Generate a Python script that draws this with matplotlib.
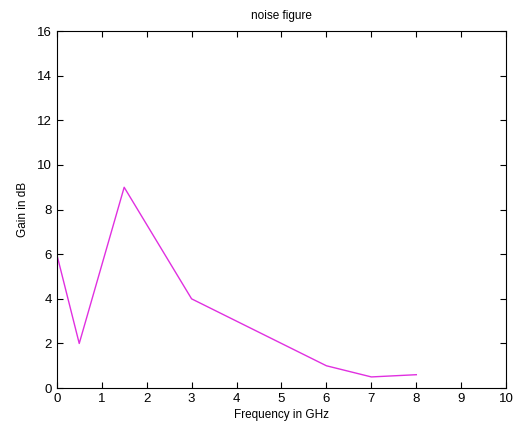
import matplotlib
matplotlib.use("Agg")
import matplotlib.pyplot as plt

freq_ghz = [0, 0.5, 1.5, 3, 4, 5, 6, 7, 8]
gain_db = [6, 2, 9, 4, 3, 2, 1, 0.5, 0.6]

plt.rcParams["font.family"] = ["Liberation Sans", "DejaVu Sans"]
plt.rcParams["font.size"] = 8

fig = plt.figure(figsize=(5.16, 4.26), dpi=100)
ax = fig.add_axes([0.110, 0.089, 0.871, 0.838])
ax.plot(freq_ghz, gain_db, color="#e030e0", linewidth=1.0)

ax.set_xlim(0, 10)
ax.set_ylim(0, 16)
ax.set_xticks(range(0, 11))
ax.set_yticks(range(0, 17, 2))
ax.tick_params(direction="in", top=True, right=True, length=4, width=0.8, labelsize=9.5)
for s in ax.spines.values():
    s.set_linewidth(0.8)

ax.set_title("noise figure", fontsize=8.5, pad=9)
ax.set_xlabel("Frequency in GHz", fontsize=8.5, labelpad=3)
ax.set_ylabel("Gain in dB", fontsize=8.5, labelpad=6)

fig.savefig("out.png", dpi=100)
